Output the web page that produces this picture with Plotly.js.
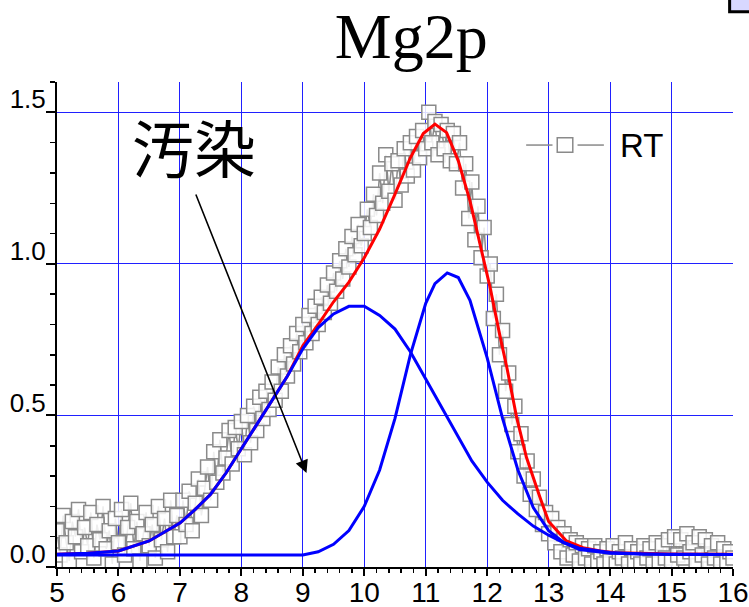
<!DOCTYPE html>
<html><head><meta charset="utf-8">
<script src="https://cdn.plot.ly/plotly-3.0.1.min.js"></script>
<style>html,body{margin:0;padding:0;background:#fff}#chart{width:749px;height:607px}</style>
</head><body><div id="chart"></div>
<script>
// Measured data (RT scan)
const rtX = [
5.00,5.05,5.10,5.15,5.20,5.25,5.30,5.35,5.40,5.45,5.50,5.55,5.60,5.65,5.70,5.75,5.80,5.85,5.90,5.95,
6.00,6.05,6.10,6.15,6.20,6.25,6.30,6.35,6.40,6.45,6.50,6.55,6.60,6.65,6.70,6.75,6.80,6.85,6.90,6.95,
7.00,7.05,7.10,7.15,7.20,7.25,7.30,7.35,7.40,7.45,7.50,7.55,7.60,7.65,7.70,7.75,7.80,7.85,7.90,7.95,
8.00,8.05,8.10,8.15,8.20,8.25,8.30,8.35,8.40,8.45,8.50,8.55,8.60,8.65,8.70,8.75,8.80,8.85,8.90,8.95,
9.00,9.05,9.10,9.15,9.20,9.25,9.30,9.35,9.40,9.45,9.50,9.55,9.60,9.65,9.70,9.75,9.80,9.85,9.90,9.95,
10.00,10.05,10.10,10.15,10.20,10.25,10.30,10.35,10.40,10.45,10.50,10.55,10.60,10.65,10.70,10.75,10.80,10.85,10.90,10.95,
11.00,11.05,11.10,11.15,11.20,11.25,11.30,11.35,11.40,11.45,11.50,11.55,11.60,11.65,11.70,11.75,11.80,11.85,11.90,11.95,
12.00,12.05,12.10,12.15,12.20,12.25,12.30,12.35,12.40,12.45,12.50,12.55,12.60,12.65,12.70,12.75,12.80,12.85,12.90,12.95,
13.00,13.05,13.10,13.15,13.20,13.25,13.30,13.35,13.40,13.45,13.50,13.55,13.60,13.65,13.70,13.75,13.80,13.85,13.90,13.95,
14.00,14.05,14.10,14.15,14.20,14.25,14.30,14.35,14.40,14.45,14.50,14.55,14.60,14.65,14.70,14.75,14.80,14.85,14.90,14.95,
15.00,15.05,15.10,15.15,15.20,15.25,15.30,15.35,15.40,15.45,15.50,15.55,15.60,15.65,15.70,15.75,15.80,15.85,15.90,15.95,
16.00];
const rtY = [
0.12,0.04,0.17,0.08,0.02,0.15,0.10,0.19,0.05,0.13,0.07,0.18,0.03,0.14,0.09,0.20,0.06,0.12,0.01,0.16,
0.08,0.19,0.04,0.13,0.21,0.06,0.15,0.02,0.11,0.18,0.07,0.14,0.03,0.20,0.09,0.16,0.05,0.22,0.10,0.17,
0.10,0.22,0.14,0.25,0.12,0.21,0.29,0.17,0.26,0.33,0.22,0.38,0.28,0.42,0.31,0.36,0.45,0.34,0.46,0.39,
0.48,0.37,0.50,0.41,0.53,0.45,0.56,0.49,0.58,0.52,0.61,0.55,0.66,0.58,0.70,0.63,0.73,0.67,0.77,0.71,
0.80,0.74,0.83,0.77,0.86,0.80,0.89,0.84,0.93,0.87,0.97,0.91,1.01,0.95,1.05,0.99,1.09,1.03,1.13,1.06,
1.10,1.18,1.12,1.23,1.16,1.30,1.20,1.36,1.24,1.33,1.21,1.34,1.26,1.38,1.29,1.40,1.31,1.42,1.35,1.44,
1.38,1.50,1.40,1.47,1.36,1.46,1.38,1.44,1.34,1.43,1.33,1.40,1.25,1.33,1.15,1.27,1.08,1.19,1.02,1.12,
0.96,1.00,0.82,0.90,0.70,0.78,0.58,0.64,0.47,0.53,0.38,0.44,0.30,0.35,0.24,0.29,0.19,0.23,0.14,0.18,
0.11,0.16,0.08,0.13,0.05,0.11,0.03,0.09,0.04,0.08,0.02,0.07,0.03,0.06,0.01,0.07,0.02,0.05,0.01,0.06,
0.02,0.07,0.01,0.05,0.03,0.08,0.01,0.06,0.02,0.05,0.01,0.07,0.03,0.06,0.01,0.08,0.02,0.07,0.03,0.09,
0.02,0.10,0.04,0.09,0.03,0.11,0.05,0.08,0.02,0.10,0.04,0.09,0.01,0.07,0.03,0.08,0.01,0.06,0.02,0.05,
0.03];

// Fitted components
const broadX = [5,5.5,6,6.5,7,7.25,7.5,7.75,8,8.25,8.5,8.75,9,9.25,9.5,9.75,10,10.25,10.5,10.75,11,11.25,11.5,11.75,12,12.25,12.5,12.75,13,13.25,13.5,14,14.5,15,16];
const broadY = [0.042,0.045,0.053,0.086,0.145,0.19,0.24,0.31,0.39,0.47,0.55,0.63,0.72,0.79,0.835,0.86,0.86,0.83,0.785,0.71,0.62,0.53,0.44,0.35,0.28,0.22,0.175,0.135,0.105,0.08,0.062,0.048,0.043,0.042,0.041];

const narrowX = [5,6,7,8,9,9.25,9.5,9.75,10,10.25,10.5,10.75,11,11.15,11.35,11.53,11.72,12,12.25,12.5,12.75,13,13.25,13.5,14,15,16];
const narrowY = [0.04,0.04,0.04,0.04,0.04,0.05,0.075,0.12,0.20,0.32,0.49,0.70,0.87,0.935,0.97,0.955,0.88,0.69,0.49,0.32,0.196,0.12,0.08,0.058,0.045,0.041,0.041];

const sumX = [5,5.5,6,6.5,7,7.25,7.5,7.75,8,8.25,8.5,8.75,9,9.25,9.5,9.75,10,10.25,10.5,10.75,10.96,11.15,11.34,11.53,11.72,11.88,12.05,12.21,12.32,12.48,12.64,12.86,13.0,13.29,13.56,13.84,14.1,15,16];
const sumY = [0.042,0.045,0.053,0.086,0.145,0.19,0.24,0.31,0.39,0.47,0.55,0.63,0.73,0.80,0.875,0.94,1.02,1.115,1.23,1.35,1.43,1.461,1.433,1.34,1.208,1.07,0.92,0.76,0.658,0.493,0.361,0.229,0.15,0.086,0.064,0.053,0.047,0.043,0.042];

const xTicks = [5,6,7,8,9,10,11,12,13,14,15,16];
const yTicks = [0,0.5,1.0,1.5];
const yTickText = ['0.0','0.5','1.0','1.5'];
const seriesName = 'RT';

const gray = '#8a8a8a';
const traces = [
  {x: rtX, y: rtY, type:'scatter', mode:'lines+markers', name:seriesName, showlegend:false,
   line:{color:gray, width:1.5},
   marker:{symbol:'square', size:14, color:'rgba(255,255,255,0.85)', line:{color:gray, width:1.5}}},
  {x: sumX, y: sumY, type:'scatter', mode:'lines', showlegend:false, line:{color:'#ff0000', width:3}},
  {x: broadX, y: broadY, type:'scatter', mode:'lines', showlegend:false, line:{color:'#0000ff', width:3}},
  {x: narrowX, y: narrowY, type:'scatter', mode:'lines', showlegend:false, line:{color:'#0000ff', width:3}}
];

const layout = {
  width:749, height:607,
  margin:{l:57, r:16, t:82, b:40},
  paper_bgcolor:'#fff', plot_bgcolor:'#fff',
  showlegend:false,
  title:{text:'Mg2p', font:{family:'Liberation Serif, Times New Roman, serif', size:64, color:'#000'},
         x:0.524, xanchor:'center', xref:'paper', y:0.978, yanchor:'top', yref:'container'},
  xaxis:{range:[5,16], tickvals:xTicks, ticks:'outside', ticklen:7, tickwidth:2, tickcolor:'#000',
         showline:true, linecolor:'#000', linewidth:2, showgrid:true, gridcolor:'#2020ff', gridwidth:1,
         zeroline:false, ticklabelstandoff:-8,
         tickfont:{family:'Liberation Sans, Arial, sans-serif', size:28, color:'#000'},
         minor:{dtick:0.2, ticks:'outside', ticklen:4, tickwidth:1.5, tickcolor:'#000', showgrid:false}},
  yaxis:{range:[0,1.6], tickvals:yTicks, ticktext:yTickText, ticks:'outside', ticklen:9, tickwidth:2, tickcolor:'#000',
         showline:true, linecolor:'#000', linewidth:2, showgrid:true, gridcolor:'#2020ff', gridwidth:1,
         zeroline:false, ticklabelshift:-13, ticklabelstandoff:-5,
         tickfont:{family:'Liberation Sans, Arial, sans-serif', size:26, color:'#000'},
         minor:{dtick:0.1, ticks:'outside', ticklen:5, tickwidth:1.5, tickcolor:'#000', showgrid:false}},
  annotations:[
    {x:7.23, y:1.39, xref:'x', yref:'y', text:'汚染', showarrow:false,
     font:{family:'Noto Sans CJK JP, serif', size:62, color:'#000'}},
    {x:9.06, y:0.31, xref:'x', yref:'y', ax:7.25, ay:1.234, axref:'x', ayref:'y', text:'',
     showarrow:true, arrowhead:2, arrowsize:1.6, arrowwidth:1.6, arrowcolor:'#000'},
    // legend label
    {x:0.830, y:0.870, xref:'paper', yref:'paper', xanchor:'left', yanchor:'middle', text:seriesName,
     showarrow:false, font:{family:'Liberation Sans, Arial, sans-serif', size:33, color:'#000'}}
  ],
  shapes:[
    {type:'rect', xref:'paper', yref:'paper', x0:0.995, x1:1.05, y0:1.145, y1:1.2,
     fillcolor:'#d8d8ff', line:{color:'#000', width:3}},
    // legend sample: line - square - line
    {type:'line', xref:'paper', yref:'paper', x0:0.694, x1:0.733, y0:0.870, y1:0.870, line:{color:gray, width:1.5}},
    {type:'line', xref:'paper', yref:'paper', x0:0.770, x1:0.809, y0:0.870, y1:0.870, line:{color:gray, width:1.5}},
    {type:'rect', xref:'paper', yref:'paper', x0:0.740, x1:0.763, y0:0.855, y1:0.885,
     fillcolor:'#fff', line:{color:gray, width:1.5}}
  ]
};

Plotly.newPlot('chart', traces, layout, {displayModeBar:false, staticPlot:true});
</script></body></html>
